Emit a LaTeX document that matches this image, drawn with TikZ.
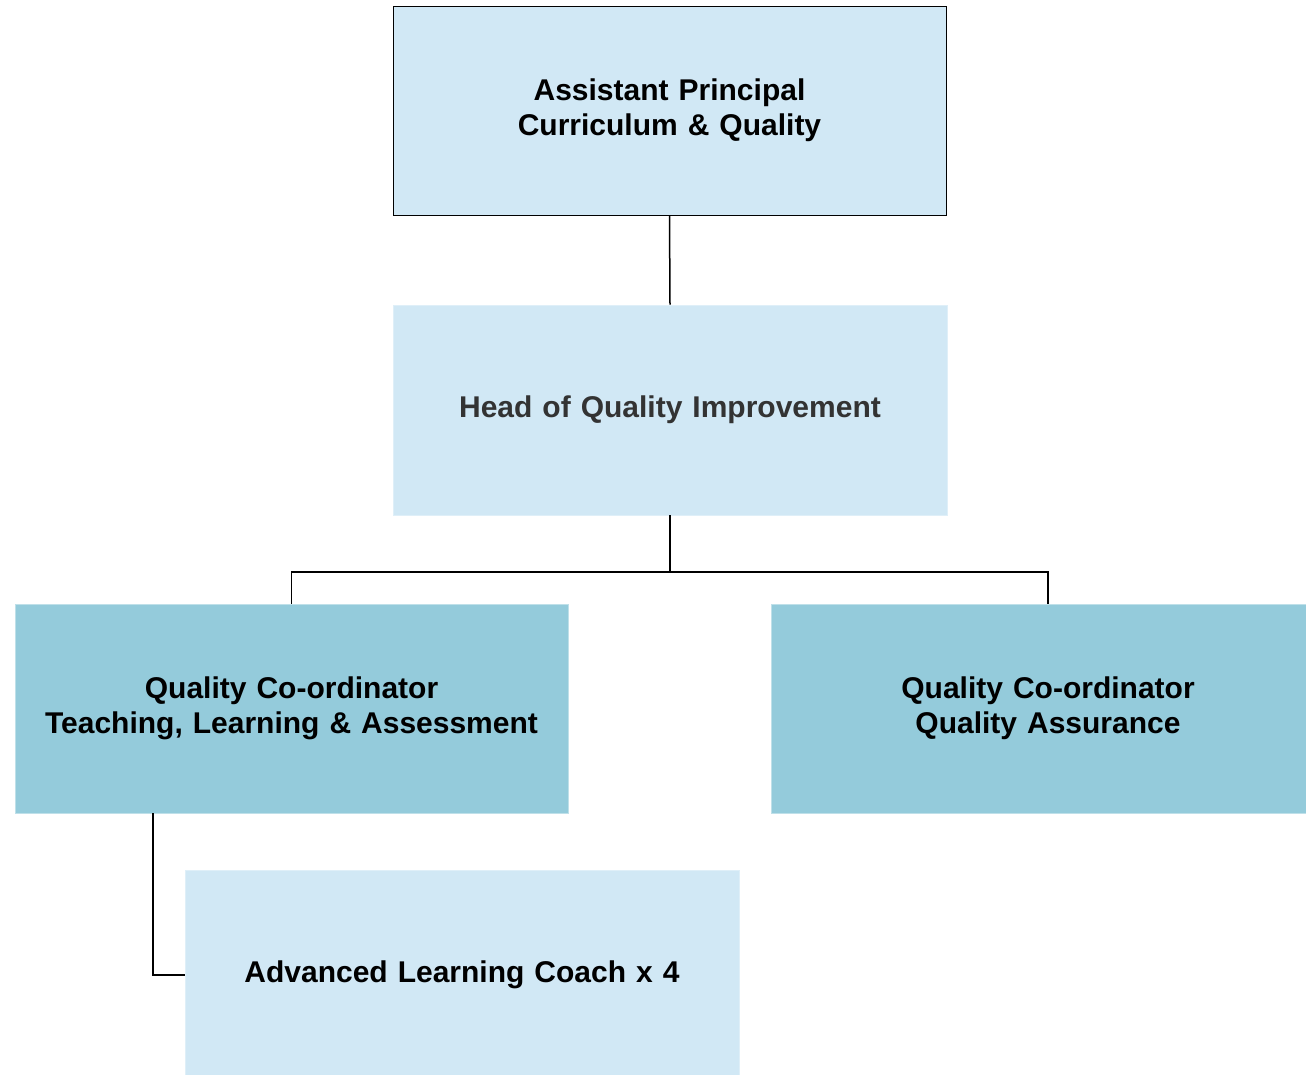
\documentclass[tikz,border=0pt]{standalone}
\usepackage{fontspec}
\setmainfont{Liberation Sans}
\definecolor{lightbox}{HTML}{D1E8F5}
\definecolor{midbox}{HTML}{94CBDB}
\definecolor{headtext}{HTML}{333333}
\tikzset{
  box/.style={rectangle, inner sep=0pt, align=center, text width=540pt,
    font=\fontsize{30}{35}\selectfont\bfseries, line width=0.8pt},
  lightnode/.style={box, fill=lightbox, draw=lightbox!70!white},
  midnode/.style={box, fill=midbox, draw=midbox!60!white},
  link/.style={draw=black, line width=1.5pt}
}
\begin{document}
\begin{tikzpicture}[x=1pt,y=-1pt]
\useasboundingbox (0,0) rectangle (1306,1075);
\node[box, fill=lightbox, draw=black, minimum width=553pt, minimum height=209pt] (ap) at (669.5,110.5) {Assistant Principal\\Curriculum \& Quality};
\node[lightnode, text=headtext, minimum width=554pt, minimum height=210pt] (hq) at (670,410) {Head of Quality Improvement};
\node[midnode, minimum width=553pt, minimum height=209pt] (tla) at (291.5,708.5) {Quality Co-ordinator\\Teaching, Learning \& Assessment};
\node[midnode, minimum width=554pt, minimum height=209pt] (qa) at (1048,708.5) {Quality Co-ordinator\\Quality Assurance};
\node[lightnode, minimum width=554pt, minimum height=210pt] (alc) at (462,975) {Advanced Learning Coach x 4};
\coordinate (bus) at (670,572);
\draw[link] (ap.south) -- (hq.north);
\draw[link] (hq.south) -- (bus);
\draw[link] (tla.north) |- (bus) -| (qa.north);
\draw[link] (tla.south -| 153,0) |- (alc.west);
\end{tikzpicture}
\end{document}
